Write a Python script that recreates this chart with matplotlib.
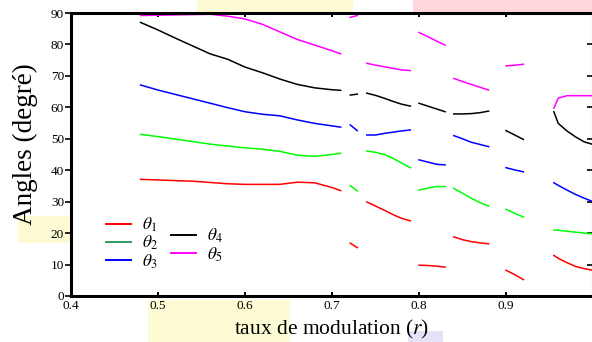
import numpy as np
import matplotlib
matplotlib.use("Agg")
import matplotlib.pyplot as plt
from matplotlib.lines import Line2D
from matplotlib.patches import Rectangle

# ── DATA ──────────────────────────────────────────────────────────
# r grid of each continuous branch (the solution curves break between them)
R_SEGMENTS = [
    [0.48, 0.50, 0.52, 0.54, 0.56, 0.58, 0.60, 0.62, 0.64, 0.66, 0.68, 0.70, 0.71],
    [0.721, 0.729],
    [0.74, 0.75, 0.76, 0.77, 0.78, 0.79],
    [0.80, 0.81, 0.82, 0.83],
    [0.84, 0.85, 0.86, 0.87, 0.88],
    [0.90, 0.91, 0.92],
    [0.955, 0.96, 0.97, 0.98, 0.99, 1.0],
]

THETA1 = [
    [37.1, 36.9, 36.7, 36.5, 36.1, 35.7, 35.5, 35.5, 35.5, 36.2, 36.0, 34.5, 33.5],
    [16.8, 15.4],
    [29.9, 28.6, 27.3, 25.9, 24.7, 23.9],
    [9.8, 9.7, 9.5, 9.2],
    [18.8, 17.9, 17.3, 16.9, 16.6],
    [8.2, 6.8, 5.2],
    [12.9, 12.0, 10.6, 9.4, 8.7, 8.2],
]
THETA2 = [
    [51.4, 50.7, 49.9, 49.1, 48.3, 47.7, 47.1, 46.7, 46.0, 44.8, 44.4, 45.0, 45.4],
    [35.1, 33.4],
    [46.1, 45.7, 45.0, 43.8, 42.3, 40.8],
    [33.7, 34.3, 34.8, 34.8],
    [34.2, 32.7, 31.1, 29.7, 28.6],
    [27.6, 26.3, 25.1],
    [21.0, 20.9, 20.6, 20.3, 20.0, 19.8],
]
THETA3 = [
    [67.1, 65.5, 64.1, 62.7, 61.3, 59.9, 58.6, 57.8, 57.3, 56.0, 54.9, 54.1, 53.7],
    [54.4, 52.6],
    [51.2, 51.2, 51.7, 52.1, 52.5, 52.8],
    [43.3, 42.6, 41.9, 41.7],
    [51.0, 50.0, 48.9, 48.2, 47.5],
    [40.8, 40.1, 39.5],
    [36.0, 35.2, 33.7, 32.3, 31.1, 30.0],
]
THETA4 = [
    [87.0, 84.6, 82.0, 79.5, 77.0, 75.3, 72.8, 71.0, 69.0, 67.3, 66.2, 65.6, 65.4],
    [63.9, 64.2],
    [64.5, 63.8, 62.9, 61.9, 61.0, 60.4],
    [61.3, 60.4, 59.5, 58.6],
    [57.9, 57.9, 58.0, 58.3, 58.8],
    [52.6, 51.2, 49.8],
    [58.6, 54.9, 52.5, 50.6, 49.0, 48.2],
]
THETA5 = [
    [89.2, 89.3, 89.4, 89.5, 89.6, 89.0, 88.1, 86.4, 84.0, 81.6, 79.8, 78.0, 77.0],
    [88.6, 89.2],
    [74.0, 73.4, 72.9, 72.4, 71.9, 71.7],
    [83.8, 82.5, 81.1, 79.8],
    [69.2, 68.2, 67.3, 66.4, 65.5],
    [73.2, 73.4, 73.7],
    [59.7, 62.9, 63.7, 63.7, 63.7, 63.7],
]

SERIES = [
    (THETA1, r"$\theta_{\mathit{1}}$", "#ff0000"),
    (THETA2, r"$\theta_{\mathit{2}}$", "#00ff00"),
    (THETA3, r"$\theta_{\mathit{3}}$", "#0000ff"),
    (THETA4, r"$\theta_{\mathit{4}}$", "#000000"),
    (THETA5, r"$\theta_{\mathit{5}}$", "#ff00ff"),
]
LEGEND_GREEN = "#2e9b5e"

X_TICKS = [0.4, 0.5, 0.6, 0.7, 0.8, 0.9]
Y_TICKS = [0, 10, 20, 30, 40, 50, 60, 70, 80, 90]


def join_segments(segments):
    """Concatenate branches with NaN gaps so each is drawn as a separate piece."""
    xs, ys = [], []
    for r, v in zip(R_SEGMENTS, segments):
        xs += list(r) + [np.nan]
        ys += list(v) + [np.nan]
    return np.array(xs), np.array(ys)


# ── PLOT ──────────────────────────────────────────────────────────
plt.rcParams.update({
    "font.family": "Liberation Serif",
    "mathtext.fontset": "stix",
    "xtick.labelsize": 9.5,
    "ytick.labelsize": 9.5,
})

fig = plt.figure(figsize=(5.92, 3.42), dpi=100)

# faint highlight marks around the frame
for (x0, y0, w, h, c) in [
    (197, 0, 156, 12, "#fcfbd3"),
    (413, 0, 179, 12, "#ffd6dc"),
    (18, 216, 52, 27, "#fcfbd3"),
    (148, 300, 142, 42, "#fcfbd3"),
    (408, 331, 35, 11, "#e4e2f6"),
]:
    fig.add_artist(Rectangle((x0 / 592, 1 - (y0 + h) / 342), w / 592, h / 342,
                             transform=fig.transFigure, color=c, lw=0, zorder=-5))

ax = fig.add_axes([71 / 592, 46 / 342, 522 / 592, 283 / 342])

for data, label, color in SERIES:
    x, y = join_segments(data)
    ax.plot(x, y, color=color, lw=1.1, label=label)

ax.set_xlim(0.4, 1.0)
ax.set_ylim(0, 90)
ax.set_xticks(X_TICKS)
ax.set_xticklabels([f"{t:g}" for t in X_TICKS])
ax.set_yticks(Y_TICKS)

for side in ("left", "bottom", "top", "right"):
    ax.spines[side].set_linewidth(2.2)

ax.tick_params(axis="x", direction="in", top=True, length=3, width=1.4, pad=3)
ax.tick_params(axis="y", direction="out", length=4, width=1.2, pad=1)
right = ax.secondary_yaxis("right")
right.set_yticks(Y_TICKS)
right.tick_params(direction="in", length=4, width=1.2, labelright=False)

ax.set_xlabel(r"taux de modulation ($r$)", fontsize=15.5, labelpad=4.5)
ax.set_ylabel("Angles (degré)", fontsize=19.5)
ax.yaxis.set_label_coords(-0.064, 0.535)

# two legend columns, the second one set half a row lower
handles = [Line2D([], [], color=(LEGEND_GREEN if c == "#00ff00" else c), lw=1.4)
           for _, _, c in SERIES]
labels = [lab for _, lab, _ in SERIES]
leg_kw = dict(frameon=False, fontsize=12.5, handlelength=1.45, handletextpad=0.6,
              labelspacing=0.0, borderpad=0, borderaxespad=0, loc="upper left")
leg1 = ax.legend(handles[:3], labels[:3], bbox_to_anchor=(0.067, 0.284), **leg_kw)
ax.add_artist(leg1)
ax.legend(handles[3:], labels[3:], bbox_to_anchor=(0.192, 0.244), **leg_kw)

fig.savefig("out.png", dpi=100)
